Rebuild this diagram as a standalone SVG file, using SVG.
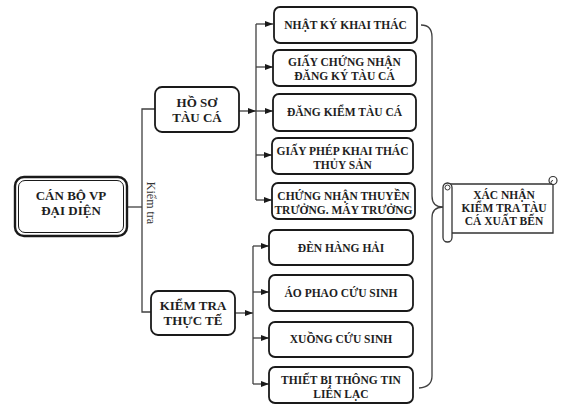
<svg xmlns="http://www.w3.org/2000/svg" width="576" height="417" viewBox="0 0 576 417">
<defs>
<style>
.box{fill:#fff;stroke:#1a1a1a;stroke-width:1.8}
.t{font-family:"Liberation Serif","Times New Roman",serif;font-weight:bold;fill:#1e1e1e;text-anchor:middle}
.m{font-size:13px}
.s{font-size:11.5px}
.ln{fill:none;stroke:#404040;stroke-width:1.3}
</style>
<marker id="ar" viewBox="0 0 8 6" refX="8" refY="3" markerWidth="8" markerHeight="6" markerUnits="userSpaceOnUse" orient="auto">
<path d="M0,0 L8,3 L0,6 Z" fill="#1a1a1a"/>
</marker>
</defs>
<rect width="576" height="417" fill="#fff"/>

<g id="connectors">
<path class="ln" d="M127,207 H142"/>
<path class="ln" d="M155,109 H142 V312 H151"/>
<path class="ln" d="M239,111 H256" marker-end="url(#ar)"/>
<path class="ln" d="M256,24 V200"/>
<path class="ln" d="M256,24 H273" marker-end="url(#ar)"/>
<path class="ln" d="M256,67 H273" marker-end="url(#ar)"/>
<path class="ln" d="M256,111 H273" marker-end="url(#ar)"/>
<path class="ln" d="M256,155 H272" marker-end="url(#ar)"/>
<path class="ln" d="M256,200 H272" marker-end="url(#ar)"/>
<path class="ln" d="M235,313 H253" marker-end="url(#ar)"/>
<path class="ln" d="M253,246 V384"/>
<path class="ln" d="M253,246 H269" marker-end="url(#ar)"/>
<path class="ln" d="M253,292 H269" marker-end="url(#ar)"/>
<path class="ln" d="M253,338 H269" marker-end="url(#ar)"/>
<path class="ln" d="M253,384 H269" marker-end="url(#ar)"/>
<path class="ln" d="M421,25 Q432,25 432,37 V196 Q432,207 443,207 Q432,207 432,218 V376 Q432,387 419,388"/>
<text x="0" y="0" transform="translate(147,203) rotate(90)" style="font-family:'Liberation Serif','Times New Roman',serif;font-size:12px;fill:#333;text-anchor:middle">Kiểm tra</text>
</g>

<g id="can-bo">
<rect x="15" y="177" width="112" height="59" rx="9" fill="#fff" stroke="#1a1a1a" stroke-width="2.4"/>
<rect x="18.5" y="180.5" width="105" height="52" rx="6.5" fill="none" stroke="#1a1a1a" stroke-width="1"/>
<text class="t m" x="71" y="200">CÁN BỘ VP</text>
<text class="t m" x="71" y="215">ĐẠI DIỆN</text>
</g>

<g id="ho-so">
<rect class="box" x="155" y="87" width="84" height="45" rx="7"/>
<text class="t m" x="197" y="107">HỒ SƠ</text>
<text class="t m" x="197" y="122">TÀU CÁ</text>
</g>

<g id="kiem-tra">
<rect class="box" x="151" y="291" width="84" height="44" rx="7"/>
<text class="t m" x="193" y="310">KIỂM TRA</text>
<text class="t m" x="193" y="325">THỰC TẾ</text>
</g>

<g id="nhat-ky">
<rect class="box" x="274" y="7" width="143" height="36" rx="6"/>
<text class="t s" x="345.5" y="29">NHẬT KÝ KHAI THÁC</text>
</g>
<g id="giay-chung-nhan">
<rect class="box" x="273" y="50" width="143" height="36" rx="6"/>
<text class="t s" x="344.5" y="66">GIẤY CHỨNG NHẬN</text>
<text class="t s" x="344.5" y="80">ĐĂNG KÝ TÀU CÁ</text>
</g>
<g id="dang-kiem">
<rect class="box" x="273" y="94" width="143" height="37" rx="6"/>
<text class="t s" x="344.5" y="116">ĐĂNG KIỂM TÀU CÁ</text>
</g>
<g id="giay-phep">
<rect class="box" x="272" y="138" width="141" height="36" rx="6"/>
<text class="t s" x="342.5" y="155">GIẤY PHÉP KHAI THÁC</text>
<text class="t s" x="342.5" y="169">THỦY SẢN</text>
</g>
<g id="chung-nhan-thuyen-truong">
<rect class="box" x="272" y="183" width="143" height="36" rx="6"/>
<text class="t s" x="343.5" y="200">CHỨNG NHẬN THUYỀN</text>
<text class="t s" x="343.5" y="214">TRƯỞNG. MÁY TRƯỞNG</text>
</g>

<g id="den-hang-hai">
<rect class="box" x="269" y="230" width="144" height="35" rx="6"/>
<text class="t s" x="341" y="252">ĐÈN HÀNG HẢI</text>
</g>
<g id="ao-phao">
<rect class="box" x="269" y="275" width="144" height="36" rx="6"/>
<text class="t s" x="341" y="297">ÁO PHAO CỨU SINH</text>
</g>
<g id="xuong">
<rect class="box" x="269" y="322" width="144" height="35" rx="6"/>
<text class="t s" x="341" y="343">XUỒNG CỨU SINH</text>
</g>
<g id="thiet-bi">
<rect class="box" x="269" y="367" width="144" height="36" rx="6"/>
<text class="t s" x="341" y="384">THIẾT BỊ THÔNG TIN</text>
<text class="t s" x="341" y="398">LIÊN LẠC</text>
</g>

<g id="xac-nhan">
<path d="M449,184 H553 V233 H449 Z" fill="#fff" stroke="#333" stroke-width="1.3"/>
<circle cx="553" cy="180.5" r="4" fill="#fff" stroke="#333" stroke-width="1.2"/>
<path d="M553,184.5 A2,2 0 0 1 553,180.5" fill="none" stroke="#333" stroke-width="1"/>
<rect x="443" y="183" width="9" height="59" rx="4.5" fill="#fff" stroke="#333" stroke-width="1.3"/>
<circle cx="447.5" cy="187.5" r="2.5" fill="none" stroke="#333" stroke-width="1"/>
<text class="t s" x="504" y="199">XÁC NHẬN</text>
<text class="t s" x="504" y="212">KIỂM TRA TÀU</text>
<text class="t s" x="504" y="225">CÁ XUẤT BẾN</text>
</g>
</svg>
